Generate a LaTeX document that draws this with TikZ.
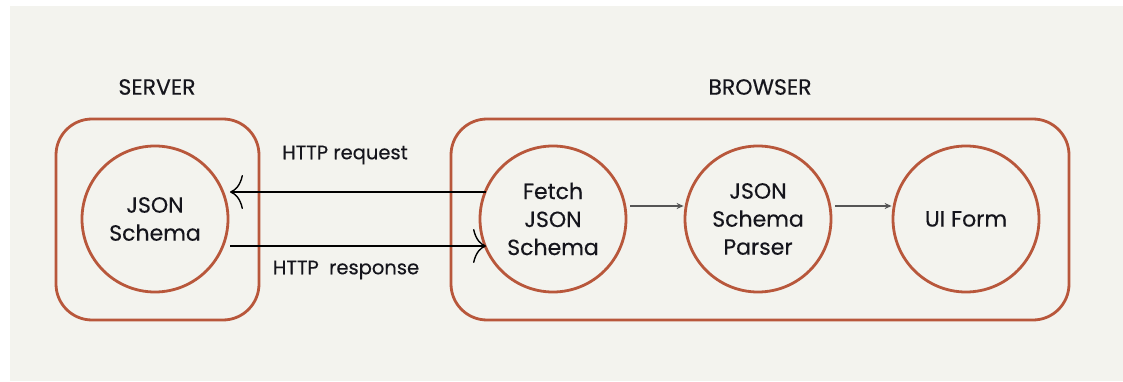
\documentclass[tikz,border=0pt]{standalone}
\usepackage{fontspec}
\setmainfont{Poppins}[UprightFeatures={FakeBold=0.35}]
\usetikzlibrary{arrows.meta}
\definecolor{paper}{HTML}{F3F3EE}
\definecolor{rust}{HTML}{B8573B}
\definecolor{ink}{HTML}{15151C}
\definecolor{flow}{HTML}{555555}
\tikzset{
  group/.style={draw=rust, line width=2.8pt, rounded corners=36pt},
  stage/.style={circle, draw=rust, line width=2.8pt, minimum size=146pt,
    inner sep=0pt, align=center, font=\fontsize{22}{28}\selectfont, text=ink},
  title/.style={font=\fontsize{22}{26}\selectfont, text=ink},
  msg/.style={font=\fontsize{19.5}{24}\selectfont, text=ink},
  http/.style={draw=black, line width=1.4pt,
    -{Computer Modern Rightarrow[length=13pt, width=34pt, line width=1.4pt]}},
  pipe/.style={draw=flow, line width=1.3pt, -{Stealth[length=7pt, width=6pt]}}
}
\begin{document}
\begin{tikzpicture}[x=1pt, y=-1pt]
  % page and panel
  \useasboundingbox (0,0) rectangle (1123,382);
  \fill[white] (0,0) rectangle (1123,382);
  \fill[paper] (10,6) rectangle (1123,381);

  % group outlines
  \draw[group] (56,119) rectangle (259,320);
  \draw[group] (451,119) rectangle (1069,320);
  \node[title] (server) at (157,87) {SERVER};
  \node[title] (browser) at (760,87) {BROWSER};

  % stages
  \node[stage] (schema) at (155,219) {JSON\\Schema};
  \node[stage] (fetch) at (553,219) {Fetch\\JSON\\Schema};
  \node[stage] (parser) at (758,219) {JSON\\Schema\\Parser};
  \node[stage] (form) at (966,219) {UI Form};

  % request / response
  \coordinate (reqS) at (486,192);
  \coordinate (reqE) at (230,192);
  \coordinate (resS) at (230,246);
  \coordinate (resE) at (486,246);
  \draw[http] (reqS) -- (reqE);
  \draw[http] (resS) -- (resE);
  \node[msg] (req) at (345,155) {HTTP request};
  \node[msg] (res) at (346,270) {HTTP\ \ response};

  % pipeline inside the browser
  \draw[pipe] (fetch.east |- 0,206) ++(3,0) coordinate (a1) -- (parser.west |- 0,206);
  \draw[pipe] (parser.east |- 0,206) ++(3,0) coordinate (a2) -- (form.west |- 0,206);
\end{tikzpicture}
\end{document}
